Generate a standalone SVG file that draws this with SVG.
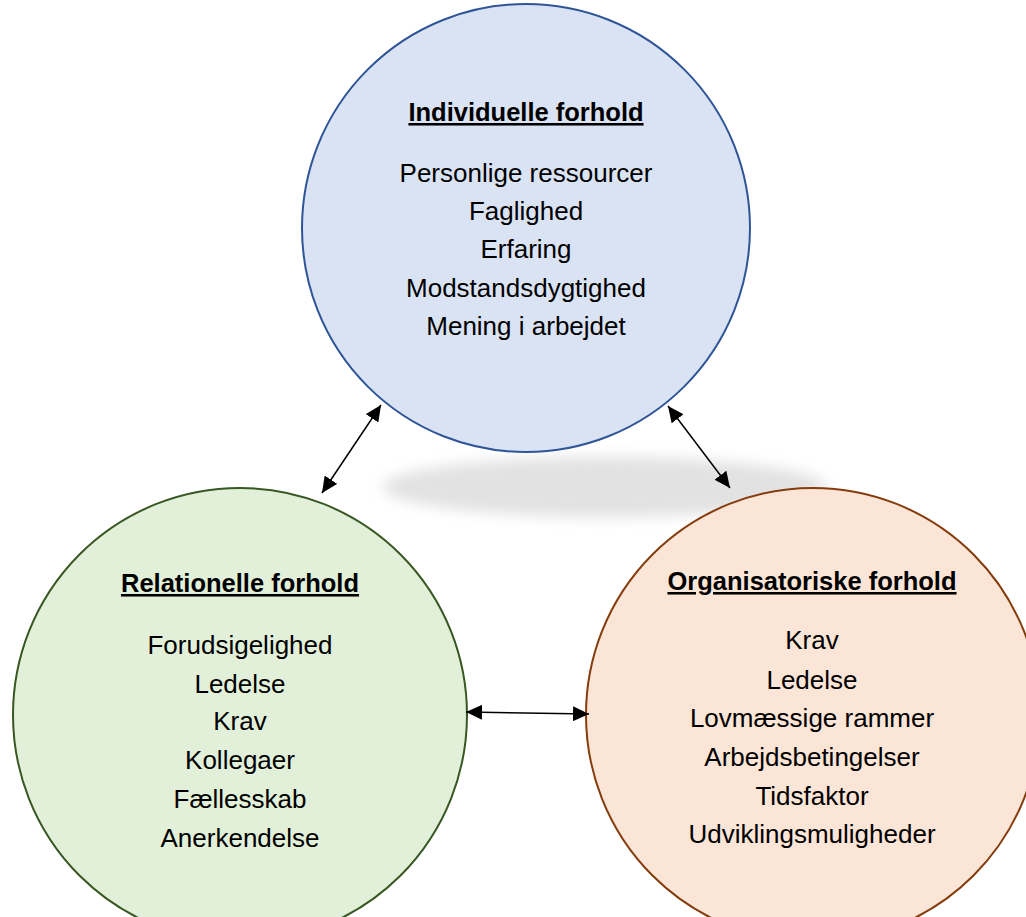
<svg xmlns="http://www.w3.org/2000/svg" width="1026" height="917" viewBox="0 0 1026 917">
<style>
.t{font-family:"Liberation Sans",Arial,sans-serif;font-size:26px;fill:#000;text-anchor:middle}
.h{font-weight:bold;text-decoration:underline;font-size:25.5px}
.c{stroke:#000;stroke-width:1.5;fill:none}
</style>
<defs>
<filter id="blur" x="-20%" y="-50%" width="140%" height="200%"><feGaussianBlur stdDeviation="7"/></filter>
<marker id="ah" viewBox="0 0 10 10" refX="10" refY="5" markerWidth="16" markerHeight="15" markerUnits="userSpaceOnUse" orient="auto-start-reverse" preserveAspectRatio="none"><path d="M0,0 L10,5 L0,10 z" fill="#000"/></marker>
</defs>
<rect width="1026" height="917" fill="#fff"/>
<ellipse cx="605" cy="487" rx="222" ry="30" fill="#e2e2e2" filter="url(#blur)"/>
<g id="individuelle">
<circle cx="526" cy="228" r="224" fill="#DAE3F3" stroke="#2F5597" stroke-width="2"/>
<text class="t h" x="526" y="121">Individuelle forhold</text>
<text class="t" x="526" y="182">Personlige ressourcer</text>
<text class="t" x="526" y="220">Faglighed</text>
<text class="t" x="526" y="258">Erfaring</text>
<text class="t" x="526" y="297">Modstandsdygtighed</text>
<text class="t" x="526" y="335">Mening i arbejdet</text>
</g>
<g id="relationelle">
<circle cx="240" cy="715" r="227" fill="#E2F0D9" stroke="#385723" stroke-width="2"/>
<text class="t h" x="240" y="592">Relationelle forhold</text>
<text class="t" x="240" y="654">Forudsigelighed</text>
<text class="t" x="240" y="693">Ledelse</text>
<text class="t" x="240" y="730">Krav</text>
<text class="t" x="240" y="769">Kollegaer</text>
<text class="t" x="240" y="808">Fællesskab</text>
<text class="t" x="240" y="847">Anerkendelse</text>
</g>
<g id="organisatoriske">
<circle cx="813" cy="715" r="227" fill="#FBE5D6" stroke="#843C0C" stroke-width="2"/>
<text class="t h" x="812" y="590">Organisatoriske forhold</text>
<text class="t" x="812" y="649">Krav</text>
<text class="t" x="812" y="689">Ledelse</text>
<text class="t" x="812" y="727">Lovmæssige rammer</text>
<text class="t" x="812" y="766">Arbejdsbetingelser</text>
<text class="t" x="812" y="805">Tidsfaktor</text>
<text class="t" x="812" y="843">Udviklingsmuligheder</text>
</g>
<g id="connectors">
<line class="c" x1="381" y1="405" x2="322" y2="493" marker-start="url(#ah)" marker-end="url(#ah)"/>
<line class="c" x1="668" y1="406" x2="730" y2="488" marker-start="url(#ah)" marker-end="url(#ah)"/>
<line class="c" x1="466" y1="712" x2="589" y2="714" marker-start="url(#ah)" marker-end="url(#ah)"/>
</g>
</svg>
